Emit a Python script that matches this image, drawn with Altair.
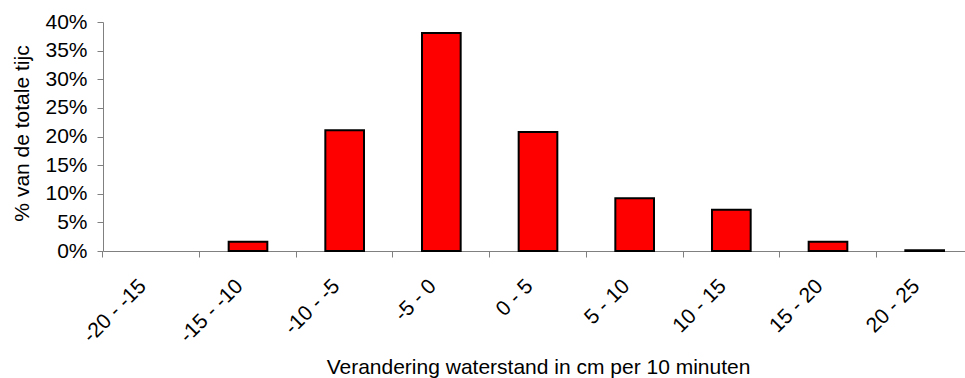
import altair as alt
import pandas as pd

categories = ["-20 - -15", "-15 - -10", "-10 - -5", "-5 - 0", "0 - 5",
              "5 - 10", "10 - 15", "15 - 20", "20 - 25"]
values = [0.0, 0.016, 0.211, 0.381, 0.208, 0.092, 0.072, 0.016, 0.0015]
y_ticks = [0, 0.05, 0.10, 0.15, 0.20, 0.25, 0.30, 0.35, 0.40]

df = pd.DataFrame({"cat": categories, "value": values})

FONT = "Liberation Sans"

chart = alt.Chart(df).transform_filter(
    alt.datum.value > 0
).mark_bar(
    color="#FF0000", stroke="#000000", strokeWidth=2
).encode(
    x=alt.X(
        "cat:N",
        sort=categories,
        scale=alt.Scale(domain=categories, range=[0, 870],
                        paddingInner=0.6, paddingOuter=0.3),
        axis=alt.Axis(
            title="Verandering waterstand in cm per 10 minuten",
            labelAngle=-45, labelAlign="right", labelBaseline="top",
            labelOffset=-16, labelPadding=18,
            bandPosition=-0.75, tickSize=6,
            domainColor="#808080", tickColor="#808080",
            titleY=122, titleBaseline="alphabetic",
        ),
    ),
    y=alt.Y(
        "value:Q",
        scale=alt.Scale(domain=[0, 0.4], nice=False),
        axis=alt.Axis(
            title="% van de totale tijc",
            values=y_ticks, format=".0%",
            tickSize=6, labelPadding=10,
            domainColor="#808080", tickColor="#808080",
            grid=False,
            titleX=-81, titleY=111, titleBaseline="middle",
        ),
    ),
).properties(
    width=862, height=229,
    autosize=alt.AutoSizeParams(type="none"),
    padding={"left": 103, "top": 22, "right": 0, "bottom": 127},
).configure_view(
    stroke=None
).configure_axis(
    labelFont=FONT, titleFont=FONT,
    labelFontSize=21, titleFontSize=21,
    labelColor="#000000", titleColor="#000000",
    titleFontWeight="normal",
)

chart.save("out.html", embed_options={"renderer": "svg", "actions": False})
